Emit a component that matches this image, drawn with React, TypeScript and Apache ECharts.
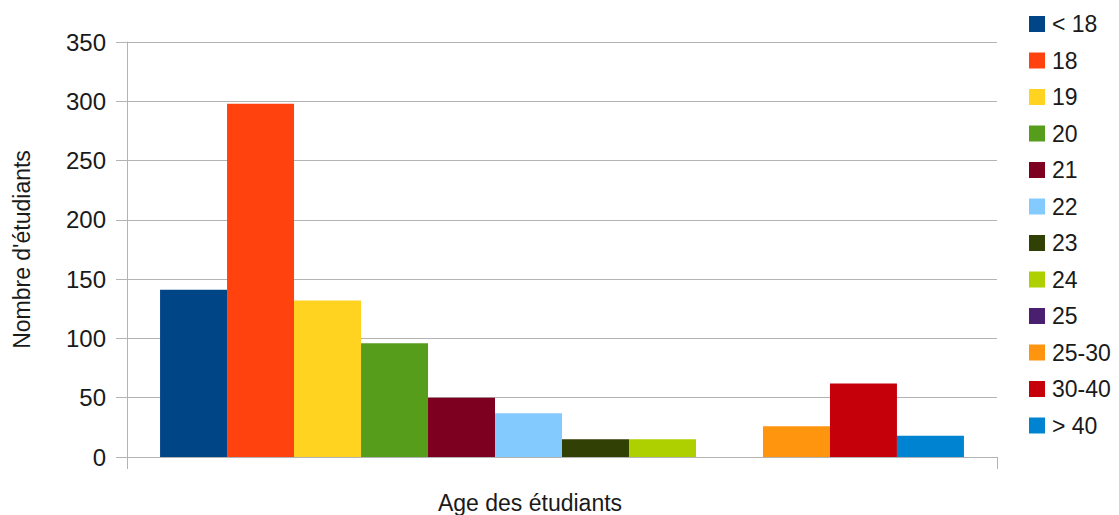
import React, { useEffect, useRef } from "react";
import * as echarts from "echarts";

const categories = [""];
const seriesNames = ["< 18", "18", "19", "20", "21", "22", "23", "24", "25", "25-30", "30-40", "> 40"];
const seriesValues = [141, 298, 132, 96, 50, 37, 15, 15, 0, 26, 62, 18];
const seriesColors = ["#004586", "#ff420e", "#ffd320", "#579d1c", "#7e0021", "#83caff", "#314004", "#aecf00", "#4b1f6f", "#ff950e", "#c5000b", "#0084d1"];
const yTicks = { min: 0, max: 350, interval: 50 };

export default function App() {
  const ref = useRef<HTMLDivElement>(null);
  useEffect(() => {
    if (!ref.current) return;
    const chart = echarts.init(ref.current, undefined, { renderer: "svg" });
    const font = "'Liberation Sans', Arial, sans-serif";
    chart.setOption({
      animation: false,
      textStyle: { fontFamily: font },
      grid: { left: 127, right: 122, top: 42, bottom: 58, containLabel: false, outerBoundsMode: "none" },
      legend: {
        orient: "vertical",
        left: 1029,
        top: 12,
        padding: 0,
        itemWidth: 16,
        itemHeight: 16,
        itemGap: 12.5,
        icon: "rect",
        data: seriesNames,
        textStyle: { fontSize: 23, color: "#1a1a1a", fontFamily: font, lineHeight: 24, padding: [0, 0, 0, 2] },
      },
      xAxis: {
        type: "category",
        data: categories,
        name: "Age des étudiants",
        nameLocation: "middle",
        nameGap: 34,
        nameTextStyle: { fontSize: 23, color: "#1a1a1a", fontFamily: font, padding: [0, 64, 0, 0] },
        axisLine: { show: true, lineStyle: { color: "#b3b3b3", width: 1 } },
        axisTick: { show: true, length: 12, lineStyle: { color: "#b3b3b3" } },
        axisLabel: { show: false },
        splitLine: { show: false },
      },
      yAxis: {
        type: "value",
        min: yTicks.min,
        max: yTicks.max,
        interval: yTicks.interval,
        name: "Nombre d'étudiants",
        nameLocation: "middle",
        nameRotate: 90,
        nameGap: 94,
        nameTextStyle: { fontSize: 23, color: "#1a1a1a", fontFamily: font },
        axisLine: { show: true, lineStyle: { color: "#b3b3b3", width: 1 } },
        axisTick: { show: true, length: 11, lineStyle: { color: "#b3b3b3" } },
        axisLabel: { fontSize: 24, color: "#1a1a1a", margin: 21, fontFamily: font },
        splitLine: { show: true, lineStyle: { color: "#b3b3b3", width: 1 } },
      },
      series: seriesNames.map((name, i) => ({
        type: "bar",
        name,
        data: [seriesValues[i]],
        itemStyle: { color: seriesColors[i] },
        barGap: "0%",
        barCategoryGap: "7.6%",
      })),
    });
    return () => chart.dispose();
  }, []);
  return <div ref={ref} style={{ width: 1119, height: 515, position: "absolute", left: 0, top: 0 }} />;
}
